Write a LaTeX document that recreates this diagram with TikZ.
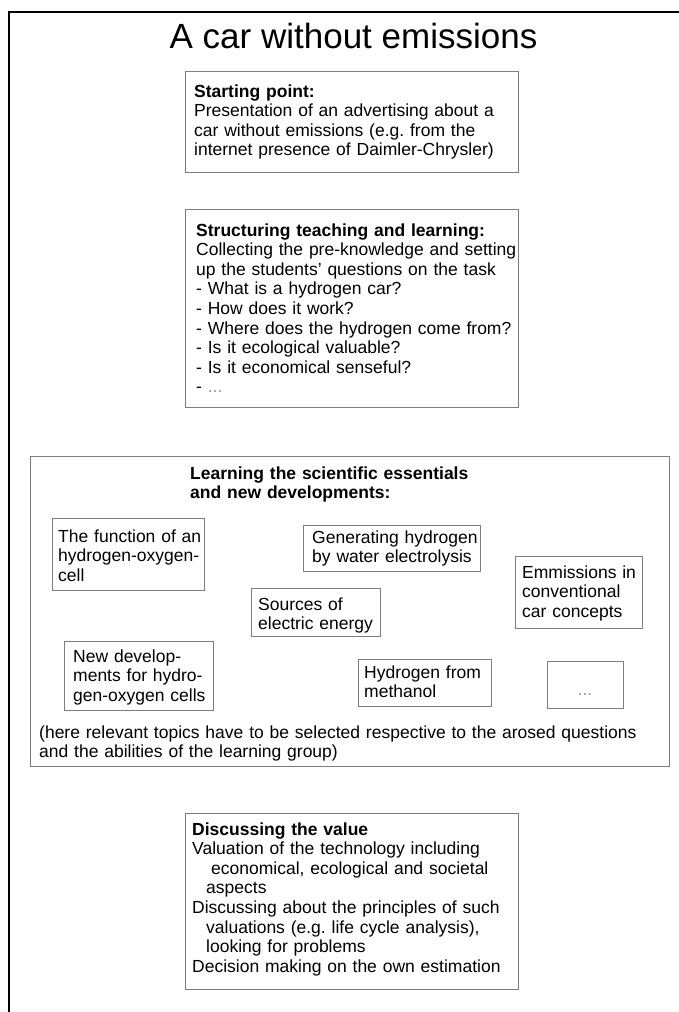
\documentclass[tikz,border=0pt]{standalone}
\usepackage{fontspec}
\setmainfont{Liberation Sans}
\usetikzlibrary{positioning}

\definecolor{boxgray}{RGB}{125,125,125}
\definecolor{dotgray}{RGB}{150,150,150}

\tikzset{
    box/.style={draw=boxgray, line width=1pt, inner sep=0pt, anchor=north west},
    txt/.style={font=\fontsize{17.5}{19.6}\selectfont\frenchspacing, text width=430pt,
                align=left, inner sep=0pt, anchor=base west},
    frame/.style={line width=2pt},
}

\begin{document}
\begin{tikzpicture}[x=1pt, y=-1pt]

    \useasboundingbox (0,0) rectangle (679,1012);
    \draw[frame] (9,1012) -- (9,12) -- (679,12);

    \node(title)[anchor=base, inner sep=0pt, font=\fontsize{35}{40}\selectfont] at (353.5,48) {A car without emissions};

    \node(start)[box, minimum width=333pt, minimum height=101pt] at (185,71) {};
    \node(startT)[txt] at ([shift={(9,26)}]start.north west)
        {\textbf{Starting point:}\\
         Presentation of an advertising about a\\
         car without emissions (e.g. from the\\
         internet presence of Daimler-Chrysler)};

    \node(struct)[box, minimum width=333pt, minimum height=198pt] at (185,209) {};
    \node(structT)[txt] at ([shift={(11,27)}]struct.north west)
        {\textbf{Structuring teaching and learning:}\\
         Collecting the pre-knowledge and setting\\
         up the students' questions on the task\\
         - What is a hydrogen car?\\
         - How does it work?\\
         - Where does the hydrogen come from?\\
         - Is it ecological valuable?\\
         - Is it economical senseful?\\
         - \textcolor{dotgray}{...}};

    \node(learn)[box, minimum width=639pt, minimum height=310pt] at (30,456) {};
    \node(learnT)[txt] at ([shift={(160,23)}]learn.north west)
        {\textbf{Learning the scientific essentials}\\
         \textbf{and new developments:}};

    \node(func)[box, minimum width=152pt, minimum height=72pt] at (52,518) {};
    \node(funcT)[txt] at ([shift={(6,24)}]func.north west)
        {The function of an\\ hydrogen-oxygen-\\ cell};

    \node(elec)[box, minimum width=177pt, minimum height=46pt] at (303,525) {};
    \node(elecT)[txt] at ([shift={(9,18)}]elec.north west)
        {Generating hydrogen\\ by water electrolysis};

    \node(emis)[box, minimum width=127pt, minimum height=72pt] at (515,556) {};
    \node(emisT)[txt] at ([shift={(7,22)}]emis.north west)
        {Emmissions in\\ conventional\\ car concepts};

    \node(src)[box, minimum width=129pt, minimum height=48pt] at (251,588) {};
    \node(srcT)[txt] at ([shift={(7,22)}]src.north west)
        {Sources of\\ electric energy};

    \node(newdev)[box, minimum width=149pt, minimum height=69pt] at (64,641) {};
    \node(newdevT)[txt] at ([shift={(9,21)}]newdev.north west)
        {New develop-\\ ments for hydro-\\ gen-oxygen cells};

    \node(meth)[box, minimum width=133pt, minimum height=47pt] at (358,659) {};
    \node(methT)[txt] at ([shift={(6,19)}]meth.north west)
        {Hydrogen from\\ methanol};

    \node(more)[box, minimum width=76pt, minimum height=47pt] at (547,661) {};
    \node(moreT)[anchor=base, inner sep=0pt, font=\fontsize{17.5}{19.6}\selectfont, text=dotgray]
        at ([shift={(38,34)}]more.north west) {...};

    \node(note)[txt, text width=630pt] at ([shift={(9,282)}]learn.north west)
        {(here relevant topics have to be selected respective to the arosed questions\\
         and the abilities of the learning group)};

    \node(disc)[box, minimum width=333pt, minimum height=176pt] at (185,813) {};
    \node(discT)[txt] at ([shift={(7,22)}]disc.north west)
        {\textbf{Discussing the value}\\
         Valuation of the technology including\\
         \hspace*{19pt}economical, ecological and societal\\
         \hspace*{14pt}aspects\\
         Discussing about the principles of such\\
         \hspace*{14pt}valuations (e.g. life cycle analysis),\\
         \hspace*{14pt}looking for problems\\
         Decision making on the own estimation};

\end{tikzpicture}
\end{document}
